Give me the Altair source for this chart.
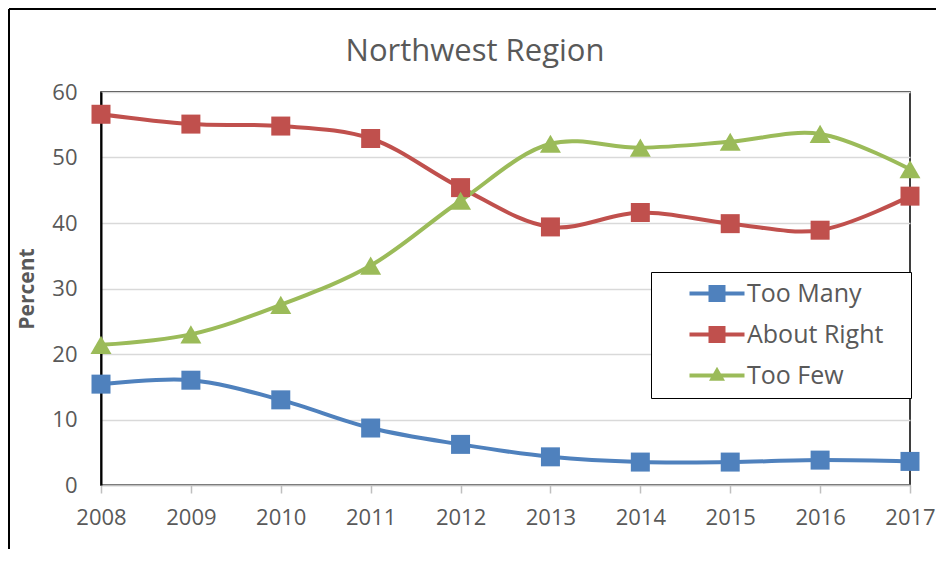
import altair as alt
import pandas as pd

years = [2008, 2009, 2010, 2011, 2012, 2013, 2014, 2015, 2016, 2017]
too_many = [15.4, 16.0, 13.0, 8.7, 6.2, 4.3, 3.5, 3.5, 3.8, 3.6]
about_right = [56.6, 55.1, 54.8, 52.9, 45.4, 39.4, 41.6, 39.9, 38.9, 44.1]
too_few = [21.4, 23.0, 27.5, 33.5, 43.4, 52.1, 51.5, 52.4, 53.6, 48.2]

series = ["Too Many", "About Right", "Too Few"]
colors = ["#4F81BD", "#C0504D", "#9BBB59"]
chart_title = "Northwest Region"

rows = []
for name, vals in zip(series, [too_many, about_right, too_few]):
    for y, v in zip(years, vals):
        rows.append({"Year": str(y), "Percent": v, "Series": name})
df = pd.DataFrame(rows)

FONT = "Open Sans"
TXT = "#595959"

sq_path = "M-2.75,-0.2L2.75,-0.2L2.75,0.2L-2.75,0.2Z M-0.85,-0.85L0.85,-0.85L0.85,0.85L-0.85,0.85Z"
tri_path = "M-2.75,-0.2L2.75,-0.2L2.75,0.2L-2.75,0.2Z M-0.8,0.53L0,-0.87L0.8,0.53Z"
legend_paths = [sq_path, sq_path, tri_path]

legend = alt.Legend(
    title=None,
    orient="none",
    legendX=550,
    legendY=180,
    direction="vertical",
    fillColor="white",
    strokeColor="black",
    padding=9,
    symbolSize=400,
    symbolStrokeWidth=0,
    symbolOpacity=1,
    symbolOffset=44.5,
    labelOffset=17.5,
    labelFont=FONT,
    labelFontSize=25,
    labelColor=TXT,
    labelLimit=400,
    rowPadding=15,
    labelExpr="datum.label + '\u2800'",
)

x = alt.X(
    "Year:O",
    scale=alt.Scale(type="point", padding=0),
    axis=alt.Axis(
        title=None,
        labelAngle=0,
        labelFont=FONT,
        labelFontSize=22,
        labelColor=TXT,
        labelPadding=14,
        tickColor="#BFBFBF",
        tickSize=8,
        tickWidth=1.5,
        domainColor="#BFBFBF",
        domainWidth=1.5,
        grid=False,
    ),
)
y = alt.Y(
    "Percent:Q",
    scale=alt.Scale(domain=[0, 60]),
    axis=alt.Axis(
        title="Percent",
        titleFont=FONT,
        titleFontSize=21,
        titleFontWeight="bold",
        titleColor=TXT,
        titlePadding=14,
        values=[0, 10, 20, 30, 40, 50, 60],
        labelFont=FONT,
        labelFontSize=22,
        labelColor=TXT,
        labelPadding=24,
        ticks=False,
        domainColor="black",
        domainWidth=2,
        gridColor="#D9D9D9",
        gridWidth=1.5,
    ),
)

base = alt.Chart(df)


def col(leg=None):
    return alt.Color("Series:N", scale=alt.Scale(domain=series, range=colors), legend=leg)


legend_layer = base.transform_filter("false").mark_point(filled=True, opacity=1).encode(
    x=x,
    y=y,
    color=col(legend),
    shape=alt.Shape("Series:N", scale=alt.Scale(domain=series, range=legend_paths), legend=legend),
)
lines = base.mark_line(interpolate="catmull-rom", strokeWidth=4).encode(
    x=x, y=y, color=col(), detail="Series:N"
)
squares = base.transform_filter(alt.datum.Series != "Too Few").mark_square(
    size=361, opacity=1, filled=True
).encode(x=x, y=y, color=col())
triangles = base.transform_filter(alt.datum.Series == "Too Few").mark_point(
    shape="triangle-up", size=440, opacity=1, filled=True, strokeWidth=0
).encode(x=x, y=y, color=col())

frame_df = pd.DataFrame({"k": [0]})
frame_left = alt.Chart(frame_df).mark_rule(color="black", strokeWidth=2).encode(
    x=alt.value(-92), y=alt.value(-83), y2=alt.value(480)
)
frame_top = alt.Chart(frame_df).mark_rule(color="black", strokeWidth=2).encode(
    x=alt.value(-92), x2=alt.value(860), y=alt.value(-83)
)
title_df = pd.DataFrame({"t": [chart_title]})
title = alt.Chart(title_df).mark_text(
    font=FONT, fontSize=31, color=TXT, align="center", baseline="alphabetic"
).encode(text="t:N", x=alt.value(374), y=alt.value(-31))

chart = (
    alt.layer(legend_layer, lines, squares, triangles, frame_left, frame_top, title)
    .resolve_scale(color="independent", shape="independent")
    .properties(
        width=809,
        height=393,
        autosize=alt.AutoSizeParams(type="none"),
        padding={"left": 93, "top": 84, "right": 26, "bottom": 64},
    )
    .configure_view(stroke="black", strokeWidth=1.5)
)

chart.save("out.html", embed_options={"renderer": "svg", "actions": False})
